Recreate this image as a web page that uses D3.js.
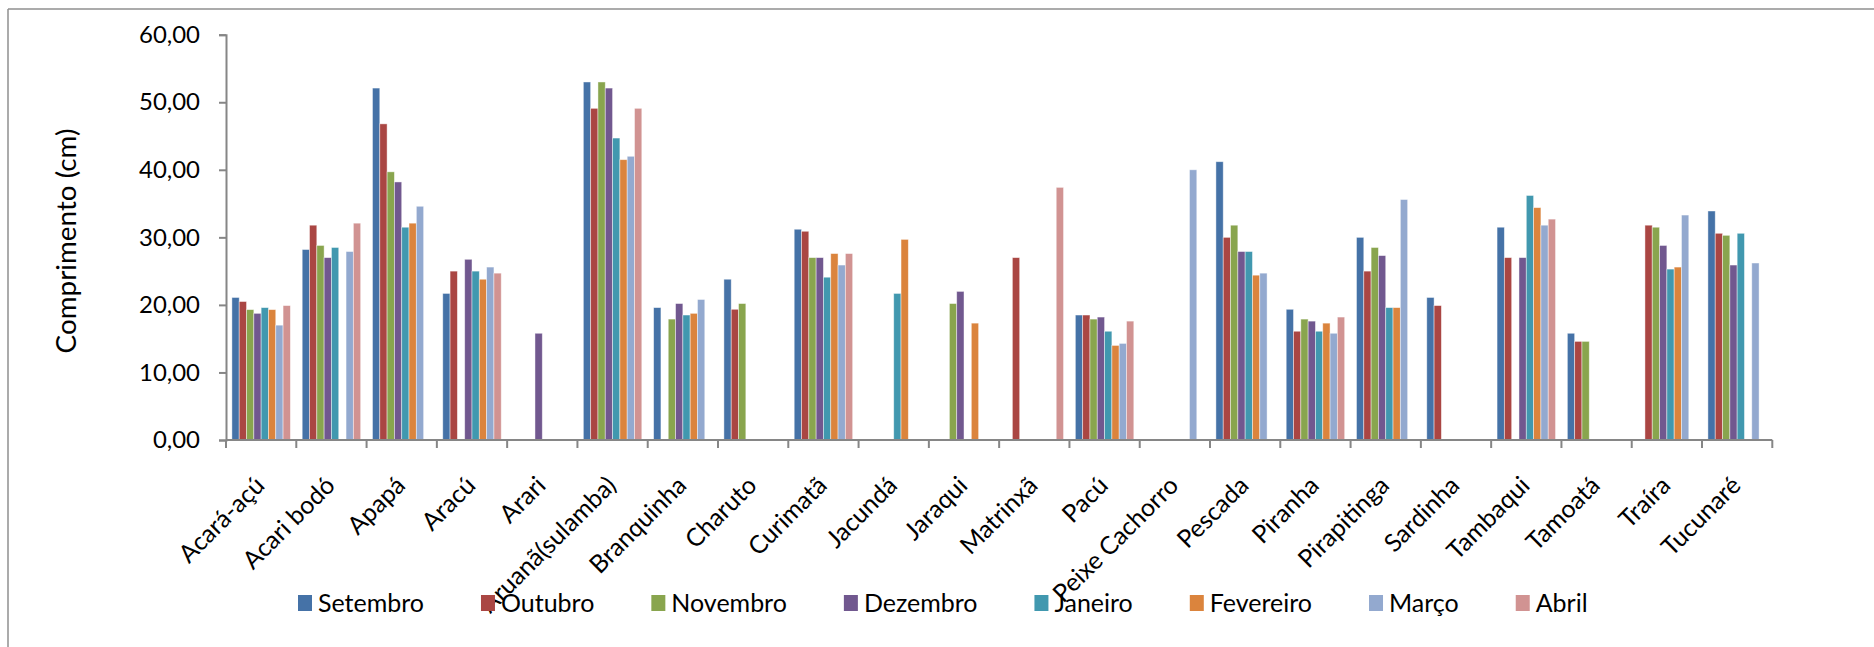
<!DOCTYPE html>
<html>
<head>
<meta charset="utf-8">
<script src="https://cdn.jsdelivr.net/npm/d3@7"></script>
<style>
  html, body { margin: 0; padding: 0; background: #fff; }
  svg { display: block; }
  text { font-family: Lato, "Open Sans", sans-serif; fill: #000; }
</style>
</head>
<body>
<svg id="chart" width="1874" height="647"></svg>
<script>
// Fish species sampled
const categories = ["Acará-açú","Acari bodó","Apapá","Aracú","Arari","Aruanã(sulamba)","Branquinha","Charuto","Curimatã","Jacundá","Jaraqui","Matrinxã","Pacú","Peixe Cachorro","Pescada","Piranha","Pirapitinga","Sardinha","Tambaqui","Tamoatá","Traíra","Tucunaré"];

// Sampling months (series)
const months = ["Setembro","Outubro","Novembro","Dezembro","Janeiro","Fevereiro","Março","Abril"];

// Mean length (cm) per species, one array per month; null = no sample
const setembro  = [21.1, 28.2, 52.1, 21.7, null, 53.0, 19.6, 23.8, 31.2, null, null, null, 18.5, null, 41.2, 19.35, 30.0, 21.1, 31.5, 15.8, null, 33.9];
const outubro   = [20.5, 31.8, 46.8, 25.0, null, 49.1, null, 19.35, 30.9, null, null, 27.0, 18.5, null, 30.0, 16.1, 25.0, 19.9, 27.0, 14.6, 31.8, 30.6];
const novembro  = [19.3, 28.8, 39.7, null, null, 53.0, 17.9, 20.2, 27.0, null, 20.2, null, 17.9, null, 31.8, 17.9, 28.5, null, null, 14.6, 31.5, 30.3];
const dezembro  = [18.75, 27.0, 38.2, 26.75, 15.8, 52.1, 20.2, null, 27.0, null, 22.0, null, 18.2, null, 27.9, 17.6, 27.3, null, 27.0, null, 28.8, 25.9];
const janeiro   = [19.6, 28.5, 31.5, 25.0, null, 44.7, 18.5, null, 24.1, 21.7, null, null, 16.1, null, 27.9, 16.1, 19.6, null, 36.2, null, 25.3, 30.6];
const fevereiro = [19.3, null, 32.1, 23.8, null, 41.5, 18.75, null, 27.6, 29.7, 17.3, null, 14.0, null, 24.4, 17.3, 19.6, null, 34.4, null, 25.6, null];
const marco     = [17.0, 27.9, 34.6, 25.6, null, 42.0, 20.8, null, 25.9, null, null, null, 14.3, 40.0, 24.7, 15.8, 35.6, null, 31.8, null, 33.3, 26.2];
const abril     = [19.9, 32.1, null, 24.7, null, 49.1, null, null, 27.6, null, null, 37.4, 17.6, null, null, 18.2, null, null, 32.7, null, null, null];

const yTicks = [0, 10, 20, 30, 40, 50, 60];
const yTitle = "Comprimento (cm)";

const seriesValues = [setembro, outubro, novembro, dezembro, janeiro, fevereiro, marco, abril];
const colors = ["#4572A7","#AA4643","#89A54E","#71588F","#4198AF","#DB843D","#93A9CF","#D19392"];

const svg = d3.select("#chart");

// Pick a font size so that a sample string renders at a given width
function fitSize(sample, width) {
  const t = svg.append("text").style("font-size", "20px").text(sample);
  const len = t.node().getComputedTextLength();
  t.remove();
  return 20 * width / len;
}
const legendSize = fitSize("Setembro", 106);
const catSize = fitSize("Peixe Cachorro", 165);
const tickSize = fitSize("60,00", 61);
const titleSize = fitSize(yTitle, 225);

// Outer chart frame (top and left edges)
svg.append("line").attr("x1", 8).attr("y1", 9).attr("x2", 1874).attr("y2", 9)
  .attr("stroke", "#8f8f8f").attr("stroke-width", 1.5);
svg.append("line").attr("x1", 8).attr("y1", 9).attr("x2", 8).attr("y2", 647)
  .attr("stroke", "#8f8f8f").attr("stroke-width", 1.5);

const plot = { left: 226, right: 1772.3, top: 34.7, bottom: 440 };

const x0 = d3.scaleBand().domain(categories).range([plot.left, plot.right]).paddingInner(0).paddingOuter(0);
const bw = x0.bandwidth();
const gap = bw * 0.168;
const x1 = d3.scaleBand().domain(months).range([gap / 2, bw - gap / 2]).padding(0);
const y = d3.scaleLinear().domain([0, 60]).range([plot.bottom, plot.top]);

const fmt = v => d3.format(".2f")(v).replace(".", ",");

// Bars
const barData = [];
seriesValues.forEach((arr, si) => {
  arr.forEach((v, ci) => {
    if (v != null) barData.push({ cat: categories[ci], month: months[si], v, color: colors[si] });
  });
});
svg.append("g").selectAll("rect").data(barData).join("rect")
  .attr("x", d => x0(d.cat) + x1(d.month))
  .attr("y", d => y(d.v))
  .attr("width", x1.bandwidth())
  .attr("height", d => y(0) - y(d.v))
  .attr("fill", d => d.color)
  .attr("stroke", "#ffffff")
  .attr("stroke-opacity", 0.55)
  .attr("stroke-width", 0.8);

// Y axis
const yAxis = svg.append("g").attr("transform", `translate(${plot.left},0)`)
  .call(d3.axisLeft(y).tickValues(yTicks).tickFormat(fmt).tickSize(7).tickPadding(19));
yAxis.select(".domain").attr("stroke", "#868686").attr("stroke-width", 2);
yAxis.selectAll(".tick line").attr("stroke", "#868686").attr("stroke-width", 2);
yAxis.selectAll(".tick text").style("font-family", "Lato, sans-serif").style("font-size", tickSize + "px").attr("fill", "#000");

// X axis (category boundaries as ticks)
const xAxisG = svg.append("g");
xAxisG.append("line").attr("x1", plot.left).attr("x2", plot.right).attr("y1", plot.bottom).attr("y2", plot.bottom)
  .attr("stroke", "#868686").attr("stroke-width", 2);
const bounds = categories.map(c => x0(c)).concat([plot.right]);
xAxisG.selectAll("line.tick").data(bounds).join("line").attr("class", "tick")
  .attr("x1", d => d).attr("x2", d => d).attr("y1", plot.bottom).attr("y2", plot.bottom + 8)
  .attr("stroke", "#868686").attr("stroke-width", 2);

// Category labels, rotated
svg.append("g").selectAll("text").data(categories).join("text")
  .attr("transform", d => `translate(${x0(d) + bw / 2 + 5},487) rotate(-45)`)
  .attr("text-anchor", "end")
  .style("font-size", catSize + "px")
  .text(d => d);

// Y axis title
svg.append("text")
  .attr("transform", "translate(76,241) rotate(-90)")
  .attr("text-anchor", "middle")
  .style("font-size", titleSize + "px")
  .text(yTitle);

// Legend
const legend = svg.append("g");
let lx = 298;
months.forEach((m, i) => {
  const g = legend.append("g").attr("transform", `translate(${lx},0)`);
  g.append("rect").attr("x", 0).attr("y", 595).attr("width", 14).attr("height", 16).attr("fill", colors[i]);
  const t = g.append("text").attr("x", 20).attr("y", 612).style("font-size", legendSize + "px").text(m);
  lx += 20 + t.node().getComputedTextLength() + 57;
});
</script>
</body>
</html>
